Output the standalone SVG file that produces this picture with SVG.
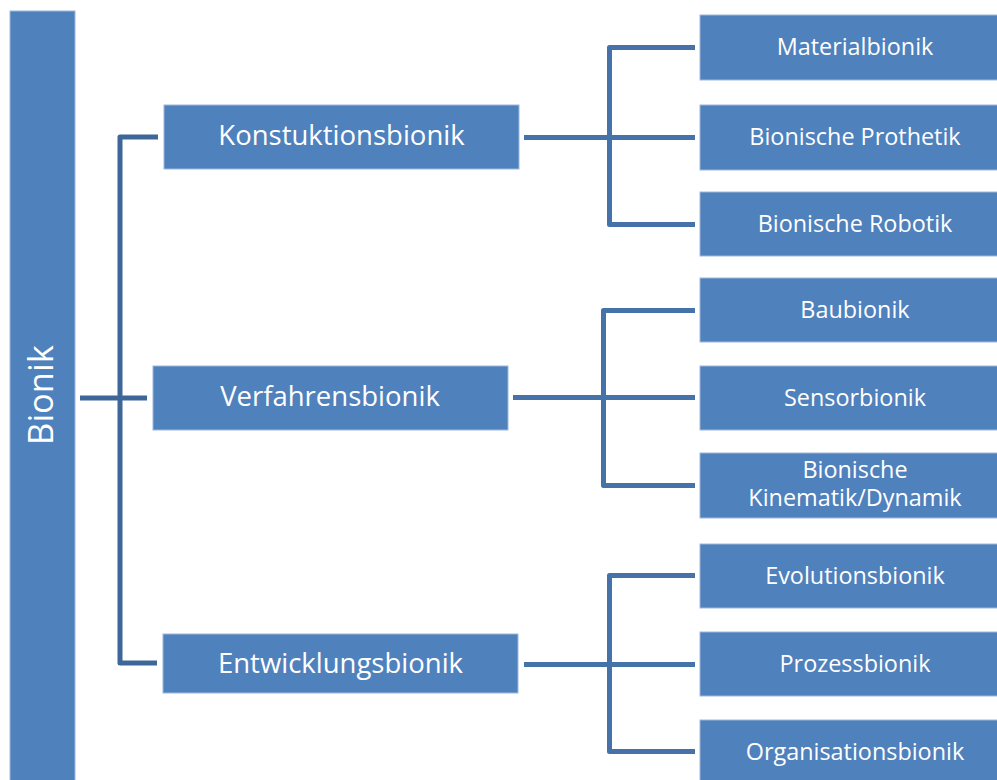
<svg xmlns="http://www.w3.org/2000/svg" width="997" height="780" viewBox="0 0 997 780">
  <style>
    .box { fill: #4f81bd; stroke: #9db8dc; stroke-width: 1; }
    .txt { fill: #ffffff; font-family: "Open Sans", "Liberation Sans", sans-serif; text-anchor: middle; }
    .main { font-size: 27.5px; }
    .sub { font-size: 23.4px; }
    .root { font-size: 34.5px; }
    .lnk { fill: none; stroke-width: 5; stroke-linejoin: round; stroke-linecap: butt; }
    .lnk-root { stroke: #3f6698; }
    .lnk-leaf { stroke: #4672aa; }
  </style>

  <rect width="997" height="780" fill="#ffffff"/>

  <!-- connectors -->
  <g id="connectors">
    <!-- root to second level -->
    <path class="lnk lnk-root" d="M158,137 H120 V663 H157"/>
    <path class="lnk lnk-root" d="M80,398 H147"/>
    <!-- Konstuktionsbionik branch -->
    <path class="lnk lnk-leaf" d="M524,137.5 H695"/>
    <path class="lnk lnk-leaf" d="M695,47.5 H609.5 V224.5 H695"/>
    <!-- Verfahrensbionik branch -->
    <path class="lnk lnk-leaf" d="M513,397.5 H695"/>
    <path class="lnk lnk-leaf" d="M695,310.5 H603.5 V485.5 H695"/>
    <!-- Entwicklungsbionik branch -->
    <path class="lnk lnk-leaf" d="M524,664.5 H695"/>
    <path class="lnk lnk-leaf" d="M695,575.5 H609.5 V751.5 H695"/>
  </g>

  <!-- root -->
  <g id="bionik">
    <rect class="box" x="10" y="11" width="65" height="780"/>
    <text class="txt root" transform="translate(53,395) rotate(-90)" x="0" y="0">Bionik</text>
  </g>

  <!-- second level -->
  <g id="konstuktionsbionik">
    <rect class="box" x="164" y="105" width="355" height="64"/>
    <text class="txt main" x="341.5" y="145">Konstuktionsbionik</text>
  </g>
  <g id="verfahrensbionik">
    <rect class="box" x="153" y="366" width="355" height="64"/>
    <text class="txt main" x="330" y="405.5">Verfahrensbionik</text>
  </g>
  <g id="entwicklungsbionik">
    <rect class="box" x="163" y="634" width="355" height="59"/>
    <text class="txt main" x="340.5" y="672.5">Entwicklungsbionik</text>
  </g>

  <!-- third level -->
  <g id="materialbionik">
    <rect class="box" x="700" y="15" width="310" height="65"/>
    <text class="txt sub" x="855" y="55">Materialbionik</text>
  </g>
  <g id="bionische-prothetik">
    <rect class="box" x="700" y="105" width="310" height="65"/>
    <text class="txt sub" x="855" y="145">Bionische Prothetik</text>
  </g>
  <g id="bionische-robotik">
    <rect class="box" x="700" y="192" width="310" height="64"/>
    <text class="txt sub" x="855" y="231.5">Bionische Robotik</text>
  </g>
  <g id="baubionik">
    <rect class="box" x="700" y="278" width="310" height="64"/>
    <text class="txt sub" x="855" y="317.5">Baubionik</text>
  </g>
  <g id="sensorbionik">
    <rect class="box" x="700" y="366" width="310" height="64"/>
    <text class="txt sub" x="855" y="405.5">Sensorbionik</text>
  </g>
  <g id="bionische-kinematik-dynamik">
    <rect class="box" x="700" y="453" width="310" height="65"/>
    <text class="txt sub" x="855" y="478">Bionische</text>
    <text class="txt sub" x="855" y="506">Kinematik/Dynamik</text>
  </g>
  <g id="evolutionsbionik">
    <rect class="box" x="700" y="544" width="310" height="64"/>
    <text class="txt sub" x="855" y="583.5">Evolutionsbionik</text>
  </g>
  <g id="prozessbionik">
    <rect class="box" x="700" y="632" width="310" height="64"/>
    <text class="txt sub" x="855" y="671.5">Prozessbionik</text>
  </g>
  <g id="organisationsbionik">
    <rect class="box" x="700" y="720" width="310" height="80"/>
    <text class="txt sub" x="855" y="760">Organisationsbionik</text>
  </g>
</svg>
